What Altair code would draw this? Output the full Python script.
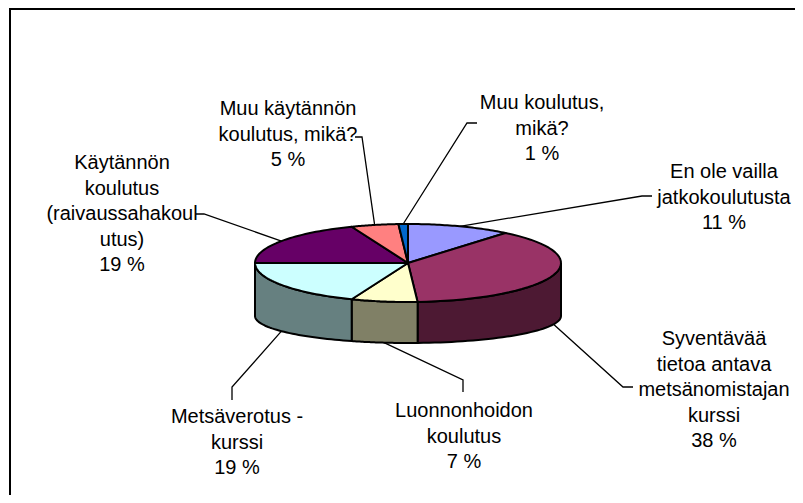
import altair as alt
import pandas as pd

# ---- data ----
categories = [
    "En ole vailla jatkokoulutusta",
    "Syventävää tietoa antava metsänomistajan kurssi",
    "Luonnonhoidon koulutus",
    "Metsäverotus - kurssi",
    "Käytännön koulutus (raivaussahakoulutus)",
    "Muu käytännön koulutus, mikä?",
    "Muu koulutus, mikä?",
]
values = [11, 38, 7, 19, 19, 5, 1]
label_lines = [
    ["En ole vailla", "jatkokoulutusta"],
    ["Syventävää", "tietoa antava", "metsänomistajan", "kurssi"],
    ["Luonnonhoidon", "koulutus"],
    ["Metsäverotus -", "kurssi"],
    ["Käytännön", "koulutus", "(raivaussahakoul", "utus)"],
    ["Muu käytännön", "koulutus, mikä?"],
    ["Muu koulutus,", "mikä?"],
]

# ---- styles / layout ----
top_colors = ["#9999FF", "#993366", "#FFFFCC", "#CCFFFF", "#660066", "#FF8080", "#0066CC"]
side_colors = ["#4D4D80", "#4D1933", "#808066", "#668080", "#330033", "#804040", "#003366"]
label_x = [724, 714, 464, 237, 122, 288, 542]
label_y = [178, 345, 417, 423, 169, 115, 109]
elbow_x = [642, 623, 463, 232, 204, 362, 467]
elbow_y = [196, 387, 380, 387, 214, 137, 123]
end_x = [652, 633, 463, 232, 196, 355, 477]
end_y = [196, 387, 392, 400, 214, 137, 123]

CX, CY, A, B = 408, 263, 153, 39
CY2, B2 = 316, 27
N = 40

df = pd.DataFrame({
    "order": list(range(len(categories))),
    "category": categories,
    "value": values,
    "label": ["\n".join(l + [f"{v} %"]) for l, v in zip(label_lines, values)],
    "label_x": label_x, "label_y": label_y,
    "elbow_x": elbow_x, "elbow_y": elbow_y,
    "end_x": end_x, "end_y": end_y,
})

xs = alt.Scale(domain=[8, 795], nice=False, zero=False)
ys = alt.Scale(domain=[8, 495], reverse=True, nice=False, zero=False)

base = (
    alt.Chart(df)
    .transform_window(cum="sum(value)", sort=[{"field": "order"}], frame=[None, 0])
    .transform_joinaggregate(total="sum(value)")
    .transform_calculate(
        t1="(datum.cum - datum.value) / datum.total * 2 * PI",
        t2="datum.cum / datum.total * 2 * PI",
    )
)

# side walls (front half only)
walls = (
    base.transform_calculate(
        w1="max(datum.t1, PI / 2)", w2="min(datum.t2, 3 * PI / 2)"
    )
    .transform_filter("datum.w2 > datum.w1")
    .transform_calculate(k=f"sequence(0, {2 * N + 3})")
    .transform_flatten(["k"])
    .transform_calculate(
        th=f"datum.k <= {N} ? datum.w1 + (datum.w2 - datum.w1) * datum.k / {N} : "
        f"(datum.k <= {2 * N + 1} ? datum.w2 - (datum.w2 - datum.w1) * (datum.k - {N + 1}) / {N} : datum.w1)"
    )
    .transform_calculate(
        px=f"{CX} + {A} * sin(datum.th)",
        py=f"(datum.k <= {N} || datum.k == {2 * N + 2}) ? {CY} - {B} * cos(datum.th) : {CY2} - {B2} * cos(datum.th)",
    )
    .mark_line(stroke="black", strokeWidth=2, strokeJoin="round")
    .encode(
        x=alt.X("px:Q", scale=xs, axis=None),
        y=alt.Y("py:Q", scale=ys, axis=None),
        order="k:Q",
        detail="category:N",
        fill=alt.Fill("category:N", scale=alt.Scale(domain=categories, range=side_colors), legend=None),
    )
)

# top faces
tops = (
    base.transform_calculate(k=f"sequence(-1, {N + 2})")
    .transform_flatten(["k"])
    .transform_calculate(
        th=f"datum.t1 + (datum.t2 - datum.t1) * clamp(datum.k, 0, {N}) / {N}",
        centre=f"datum.k < 0 || datum.k > {N}",
    )
    .transform_calculate(
        px=f"datum.centre ? {CX} : {CX} + {A} * sin(datum.th)",
        py=f"datum.centre ? {CY} : {CY} - {B} * cos(datum.th)",
    )
    .mark_line(stroke="black", strokeWidth=2, strokeJoin="round")
    .encode(
        x=alt.X("px:Q", scale=xs, axis=None),
        y=alt.Y("py:Q", scale=ys, axis=None),
        order="k:Q",
        detail="category:N",
        fill=alt.Fill("category:N", scale=alt.Scale(domain=categories, range=top_colors), legend=None),
    )
)

# leader lines
leaders = (
    base.transform_calculate(mid="(datum.t1 + datum.t2) / 2")
    .transform_calculate(
        ax=f"{CX} + {A} * sin(datum.mid)",
        ay=f"cos(datum.mid) < 0 ? {CY2} - {B2} * cos(datum.mid) : {CY} - {B} * cos(datum.mid)",
        k="sequence(0, 3)",
    )
    .transform_flatten(["k"])
    .transform_calculate(
        lx="datum.k == 0 ? datum.ax : (datum.k == 1 ? datum.elbow_x : datum.end_x)",
        ly="datum.k == 0 ? datum.ay : (datum.k == 1 ? datum.elbow_y : datum.end_y)",
    )
    .mark_line(color="black", strokeWidth=1.3)
    .encode(
        x=alt.X("lx:Q", scale=xs, axis=None),
        y=alt.Y("ly:Q", scale=ys, axis=None),
        order="k:Q",
        detail="category:N",
    )
)

labels = (
    alt.Chart(df)
    .mark_text(
        align="center", baseline="alphabetic", fontSize=20, lineHeight=25.5,
        lineBreak="\n", font="Liberation Sans", color="black",
    )
    .encode(
        x=alt.X("label_x:Q", scale=xs, axis=None),
        y=alt.Y("label_y:Q", scale=ys, axis=None),
        text="label:N",
    )
)

frame_top = alt.Chart(alt.Data(values=[{}])).mark_rule(color="black", strokeWidth=2).encode(
    x=alt.value(1), x2=alt.value(787), y=alt.value(1)
)
frame_left = alt.Chart(alt.Data(values=[{}])).mark_rule(color="black", strokeWidth=2).encode(
    x=alt.value(2), y=alt.value(0), y2=alt.value(487)
)

chart = (
    alt.layer(walls, tops, leaders, labels, frame_top, frame_left)
    .resolve_scale(fill="independent")
    .properties(width=787, height=487, padding=0, autosize=alt.AutoSizeParams(type="none"))
    .configure_view(stroke=None)
)

chart.save("out.html", embed_options={"renderer": "svg", "actions": False})
